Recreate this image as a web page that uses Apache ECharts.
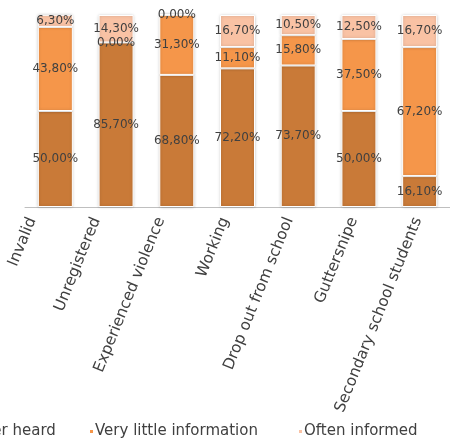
<!DOCTYPE html>
<html>
<head>
<meta charset="utf-8">
<script src="https://cdn.jsdelivr.net/npm/echarts@6/dist/echarts.min.js"></script>
<style>
  html, body { margin: 0; padding: 0; background: #fff; }
  #chart { width: 450px; height: 440px; }
</style>
</head>
<body>
<div id="chart"></div>
<script>
// Groups surveyed
const categories = ['Invalid', 'Unregistered', 'Experienced violence', 'Working', 'Drop out from school', 'Guttersnipe', 'Secondary school students'];

// Share of each group (%) by level of information
const neverHeard = [50.0, 85.7, 68.8, 72.2, 73.7, 50.0, 16.1];
const veryLittle = [43.8, 0.0, 31.3, 11.1, 15.8, 37.5, 67.2];
const oftenInformed = [6.3, 14.3, 0.0, 16.7, 10.5, 12.5, 16.7];

const seriesNames = ['Never heard', 'Very little information', 'Often informed'];
const seriesColors = ['#C97A38', '#F5964A', '#F9C2A4'];

const fmt = p => p.value.toFixed(2).replace('.', ',') + '%';

function barSeries(name, data, color) {
  return {
    name: name,
    type: 'bar',
    stack: 'total',
    barWidth: 35,
    clip: false,
    data: data,
    itemStyle: {
      color: color,
      borderColor: '#ffffff',
      borderWidth: 1,
      shadowColor: 'rgba(0,0,0,0.22)',
      shadowBlur: 3
    },
    label: {
      show: true,
      position: 'inside',
      formatter: fmt,
      color: '#404040',
      fontFamily: 'DejaVu Sans',
      fontSize: 12
    }
  };
}

function legendFor(name, left) {
  return {
    data: [name],
    left: left,
    top: 419,
    icon: 'rect',
    itemWidth: 5,
    itemHeight: 5,
    textStyle: {
      color: '#404040',
      fontFamily: 'DejaVu Sans',
      fontSize: 15,
      padding: [0, 0, 0, -4]
    }
  };
}

const chart = echarts.init(document.getElementById('chart'));
chart.setOption({
  animation: false,
  backgroundColor: '#ffffff',
  color: seriesColors,
  legend: [
    legendFor(seriesNames[0], -49),
    legendFor(seriesNames[1], 83),
    legendFor(seriesNames[2], 292)
  ],
  grid: [
    // plot area for the bars
    { left: 25, top: 15, width: 429, height: 192, containLabel: false },
    // wider band that carries the category labels
    { left: -0.5, top: 15, width: 455, height: 192, containLabel: false }
  ],
  xAxis: [
    {
      type: 'category',
      gridIndex: 0,
      data: categories,
      axisLine: { lineStyle: { color: '#BFBFBF', width: 1 } },
      axisTick: { show: false },
      axisLabel: { show: false }
    },
    {
      type: 'category',
      gridIndex: 1,
      data: categories,
      axisLine: { show: false },
      axisTick: { show: false },
      axisLabel: {
        rotate: 68,
        margin: 11,
        interval: 0,
        color: '#404040',
        fontFamily: 'DejaVu Sans',
        fontSize: 15.5
      }
    }
  ],
  yAxis: [
    { type: 'value', gridIndex: 0, min: 0, max: 100, show: false },
    { type: 'value', gridIndex: 1, min: 0, max: 100, show: false }
  ],
  series: [
    barSeries(seriesNames[0], neverHeard, seriesColors[0]),
    barSeries(seriesNames[1], veryLittle, seriesColors[1]),
    barSeries(seriesNames[2], oftenInformed, seriesColors[2])
  ]
});
</script>
</body>
</html>
